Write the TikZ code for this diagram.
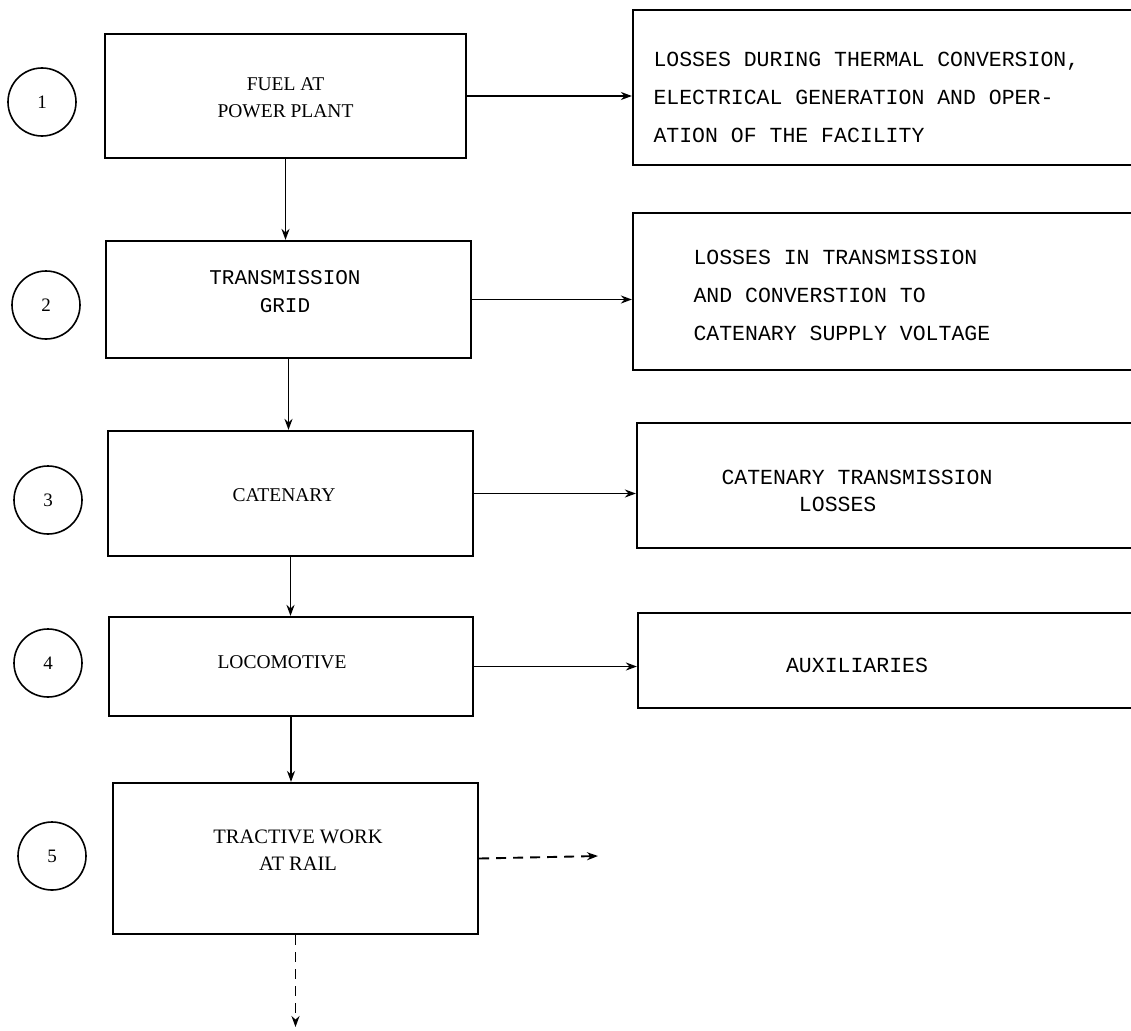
\documentclass[tikz,border=0pt]{standalone}
\usepackage{fontspec}
\setmainfont{Liberation Serif}
\newfontfamily\typew{Liberation Mono}
\usetikzlibrary{arrows.meta,calc}
\begin{document}
\begin{tikzpicture}[x=1pt,y=-1pt,
  boxst/.style={draw, line width=2.2pt, rectangle, inner sep=0pt},
  numst/.style={draw, circle, line width=1.6pt, minimum size=68pt, inner sep=0pt, font=\fontsize{19}{20}\selectfont},
  rmtext/.style={font=\fontsize{19.5}{27}\selectfont, align=center},
  tttext/.style={font=\typew\fontsize{21.5}{38}\selectfont, align=left},
  arr/.style={line width=1.9pt, -{Stealth[length=11pt,width=8pt]}},
  darr/.style={line width=1.9pt, dash pattern=on 10pt off 7pt, -{Stealth[length=11pt,width=8pt]}}
]
\useasboundingbox (0,0) rectangle (1131,1030);
\fill[white] (0,0) rectangle (1131,1030);

% circles
\node[numst] (c1) at (42,102) {1};
\node[numst] (c2) at (46,305) {2};
\node[numst] (c3) at (48,500) {3};
\node[numst] (c4) at (48,663) {4};
\node[numst] (c5) at (52,856) {5};

% main boxes
\node[boxst, minimum width=361pt, minimum height=124pt] (b1) at (285.5,96) {};
\node[rmtext] (t1) at (285.5,98) {FUEL AT\\POWER PLANT};
\node[boxst, minimum width=365pt, minimum height=117pt] (b2) at (288.5,299.5) {};
\node[tttext, align=center, font=\typew\fontsize{21}{28}\selectfont] (t2) at (285,292) {TRANSMISSION\\GRID};
\node[boxst, minimum width=365pt, minimum height=125pt] (b3) at (290.5,493.5) {};
\node[rmtext] (t3) at (284,495) {CATENARY};
\node[boxst, minimum width=364pt, minimum height=99pt] (b4) at (291,666.5) {};
\node[rmtext] (t4) at (282,662) {LOCOMOTIVE};
\node[boxst, minimum width=365pt, minimum height=151pt] (b5) at (295.5,858.5) {};
\node[rmtext, font=\fontsize{20.5}{27}\selectfont] (t5) at (298,850) {TRACTIVE WORK\\AT RAIL};

% right boxes (open beyond the right edge)
\node[boxst, minimum width=512pt, minimum height=155pt] (r1) at (889,87.5) {};
\node[tttext, anchor=west] (s1) at (650,97) {LOSSES DURING THERMAL CONVERSION,\\ELECTRICAL GENERATION AND OPER-\\ATION OF THE FACILITY};
\node[boxst, minimum width=512pt, minimum height=157pt] (r2) at (889,291.5) {};
\node[tttext, anchor=west] (s2) at (690,295) {LOSSES IN TRANSMISSION\\AND CONVERSTION TO\\CATENARY SUPPLY VOLTAGE};
\node[boxst, minimum width=508pt, minimum height=125pt] (r3) at (891,485.5) {};
\node[tttext, anchor=west, font=\typew\fontsize{21.5}{27}\selectfont] (s3) at (718,491) {CATENARY TRANSMISSION\\\phantom{CATENA}LOSSES};
\node[boxst, minimum width=507pt, minimum height=95pt] (r4) at (891.5,660.5) {};
\node[tttext] (s4) at (857,665) {AUXILIARIES};

% free ends
\coordinate (e5) at (598,856);
\coordinate (d5) at (295.5,1027);

% connectors
\draw[arr] (b1.south) -- (b1.south |- b2.north);
\draw[arr] (b2.south) -- (b2.south |- b3.north);
\draw[arr] (b3.south) -- (b3.south |- b4.north);
\draw[arr] (b4.south) -- (b4.south |- b5.north);
\draw[arr] (b1.east) -- (b1.east -| r1.west);
\draw[arr] (b2.east) -- (b2.east -| r2.west);
\draw[arr] (b3.east) -- (b3.east -| r3.west);
\draw[arr] (b4.east) -- (b4.east -| r4.west);
\draw[darr] (b5.east) -- (e5);
\draw[darr] (b5.south) -- (d5);
\end{tikzpicture}
\end{document}
